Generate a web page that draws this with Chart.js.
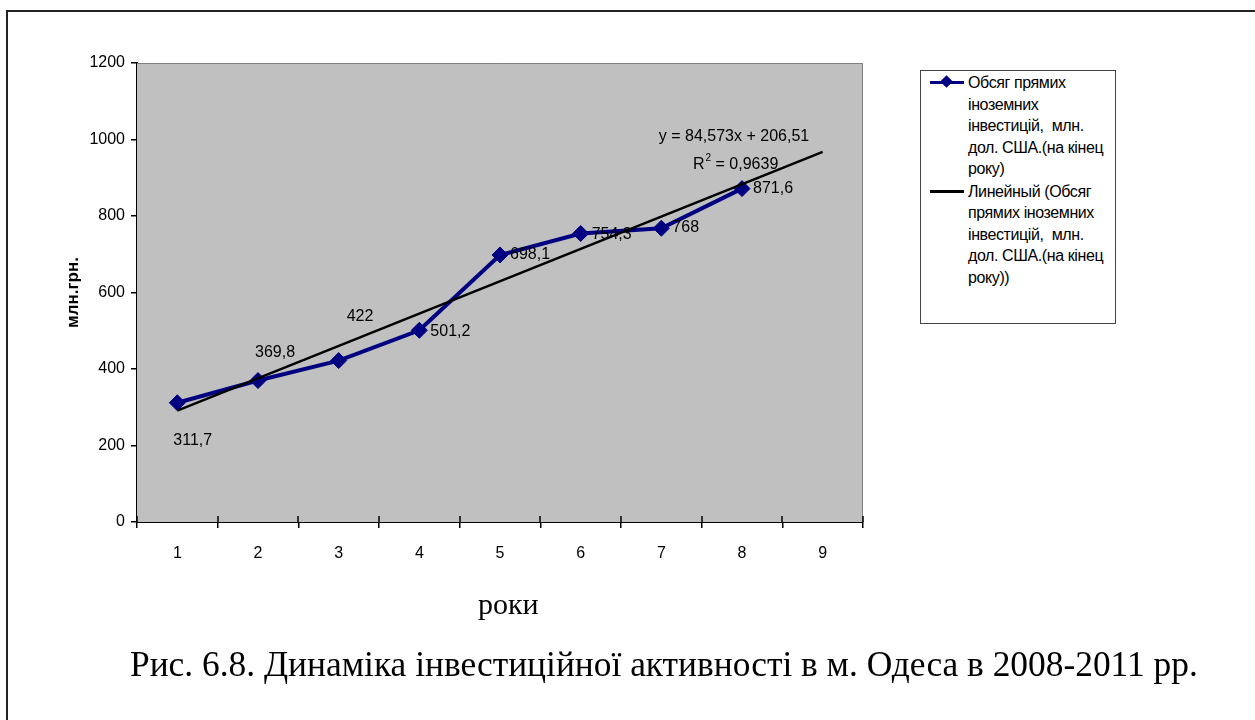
<!DOCTYPE html>
<html lang="uk">
<head>
<meta charset="UTF-8">
<title>Динаміка інвестиційної активності</title>
<script src="https://cdn.jsdelivr.net/npm/chart.js@4.4.0/dist/chart.umd.min.js"></script>
<style>
  body { margin: 0; background: #fff; }
  #wrap { position: relative; width: 1255px; height: 720px; overflow: hidden; }
  #frame { position: absolute; left: 6px; top: 10px; width: 1300px; height: 800px;
           border-left: 2px solid #222; border-top: 2px solid #222; }
  #chartBox { position: absolute; left: 0; top: 0; width: 1255px; height: 720px; }
  #legend { position: absolute; left: 920px; top: 70px; width: 194px; height: 252px;
            border: 1px solid #444; background: #fff;
            font-family: "Liberation Sans", Arial, sans-serif;
            font-size: 16px; line-height: 21.5px; color: #000; letter-spacing: -0.4px; white-space: nowrap; }
  .item { position: relative; padding-left: 47px; padding-top: 1px; }
  .sym { position: absolute; left: 9px; top: 10px; width: 34px; height: 3px; }
  .dia { position: absolute; left: 12px; top: -4px; width: 9px; height: 9px;
         background: #000080; transform: rotate(45deg); }
  #xTitle { position: absolute; left: 478px; top: 587px; font-family: "Liberation Serif", "Times New Roman", serif;
            font-size: 30px; color: #000; }
  #caption { position: absolute; left: 130px; top: 643px; font-family: "Liberation Serif", "Times New Roman", serif;
             font-size: 35.4px; color: #000; white-space: nowrap; }
</style>
</head>
<body>
<div id="wrap">
  <div id="frame"></div>
  <div id="chartBox"><canvas id="invChart" width="1255" height="720"></canvas></div>
  <div id="legend">
    <div class="item"><div class="sym" style="background:#000080"><div class="dia"></div></div>Обсяг прямих<br>іноземних<br>інвестицій,&nbsp; млн.<br>дол. США.(на кінец<br>року)</div>
    <div class="item"><div class="sym" style="background:#000"></div>Линейный (Обсяг<br>прямих іноземних<br>інвестицій,&nbsp; млн.<br>дол. США.(на кінец<br>року))</div>
  </div>
  <div id="xTitle">роки</div>
  <div id="caption">Рис. 6.8. Динаміка інвестиційної активності в м. Одеса в 2008-2011 рр.</div>
</div>

<script>
// роки (категорії осі X)
var years = ['1', '2', '3', '4', '5', '6', '7', '8', '9'];
// обсяг прямих іноземних інвестицій
var investment = [311.7, 369.8, 422, 501.2, 698.1, 754.3, 768, 871.6];
// лінійний тренд: значення на початку (1) та в кінці (9)
var trendLine = [291.1, null, null, null, null, null, null, null, 967.7];
var yTicks = [0, 200, 400, 600, 800, 1000, 1200];
var equationText = 'y = 84,573x + 206,51';
var r2Text = '0,9639';

var sans = '"Liberation Sans", Arial, sans-serif';

// фон області побудови, підписи даних, рівняння тренду
var decor = {
  id: 'decor',
  beforeDatasetsDraw: function(chart) {
    var a = chart.chartArea, ctx = chart.ctx;
    ctx.save();
    ctx.fillStyle = '#c0c0c0';
    ctx.fillRect(a.left, a.top, a.right - a.left, a.bottom - a.top);
    ctx.strokeStyle = '#808080';
    ctx.lineWidth = 1;
    ctx.beginPath();
    ctx.moveTo(a.left, a.top + 0.5);
    ctx.lineTo(a.right - 0.5, a.top + 0.5);
    ctx.lineTo(a.right - 0.5, a.bottom);
    ctx.stroke();
    // засічки осі X, що перетинають вісь
    var xs = chart.scales.x;
    ctx.strokeStyle = '#000';
    ctx.lineWidth = 1.5;
    var half = (xs.getPixelForValue(1) - xs.getPixelForValue(0)) / 2;
    for (var i = 0; i <= years.length; i++) {
      var px = Math.round(xs.getPixelForValue(0) - half + i * half * 2);
      ctx.beginPath();
      ctx.moveTo(px, a.bottom);
      ctx.lineTo(px, a.bottom - 6);
      ctx.stroke();
    }
    ctx.restore();
  },
  afterDatasetsDraw: function(chart) {
    var ctx = chart.ctx;
    var meta = chart.getDatasetMeta(1);
    var offs = [[-4, 38], [-3, -28], [8, -44], [11, 1], [10, 0], [11, 1], [11, -1], [11, 0]];
    ctx.save();
    ctx.fillStyle = '#000';
    ctx.font = '16px ' + sans;
    ctx.textBaseline = 'middle';
    ctx.textAlign = 'left';
    meta.data.forEach(function(pt, i) {
      var txt = String(investment[i]).replace('.', ',');
      ctx.fillText(txt, pt.x + offs[i][0], pt.y + offs[i][1]);
    });
    ctx.textAlign = 'center';
    ctx.fillText(equationText, 734, 137);
    ctx.textAlign = 'left';
    ctx.fillText('R', 693, 165);
    var rw = ctx.measureText('R').width;
    ctx.font = '10px ' + sans;
    ctx.fillText('2', 693 + rw + 1, 158);
    var w2 = ctx.measureText('2').width;
    ctx.font = '16px ' + sans;
    ctx.fillText(' = ' + r2Text, 693 + rw + 1 + w2, 165);
    ctx.restore();
  }
};

new Chart(document.getElementById('invChart'), {
  type: 'line',
  data: {
    labels: years,
    datasets: [
      {
        label: 'Линейный (Обсяг прямих іноземних інвестицій,  млн. дол. США.(на кінец року))',
        data: trendLine,
        spanGaps: true,
        borderColor: '#000',
        borderWidth: 2.5,
        pointRadius: 0,
        order: 0
      },
      {
        label: 'Обсяг прямих іноземних інвестицій,  млн. дол. США.(на кінец року)',
        data: investment,
        borderColor: '#000080',
        backgroundColor: '#000080',
        borderWidth: 4,
        pointStyle: 'rectRot',
        pointRadius: 8,
        pointBorderWidth: 1,
        order: 1
      }
    ]
  },
  options: {
    responsive: false,
    animation: false,
    layout: { padding: { left: 58, top: 63, right: 392, bottom: 0 } },
    plugins: { legend: { display: false }, tooltip: { enabled: false } },
    scales: {
      x: {
        offset: true,
        grid: { offset: true, drawOnChartArea: false, tickLength: 6, color: '#000', lineWidth: 1.5 },
        border: { color: '#000', width: 2 },
        ticks: { color: '#000', padding: 16, font: { family: sans, size: 16 } },
        afterFit: function(s) { s.height = 198; }
      },
      y: {
        min: 0,
        max: 1200,
        afterBuildTicks: function(s) { s.ticks = yTicks.map(function(v) { return { value: v }; }); },
        grid: { drawOnChartArea: false, tickLength: 6, color: '#000', lineWidth: 1.5 },
        border: { color: '#000', width: 2 },
        ticks: { color: '#000', padding: 6, font: { family: sans, size: 16 },
                 callback: function(v) { return String(v); } },
        title: { display: true, text: 'млн.грн.', color: '#000', padding: { top: 5, bottom: 0 },
                 font: { family: sans, size: 17, weight: 'bold' } },
        afterFit: function(s) { s.width = 79; }
      }
    }
  },
  plugins: [decor]
});
</script>
</body>
</html>
